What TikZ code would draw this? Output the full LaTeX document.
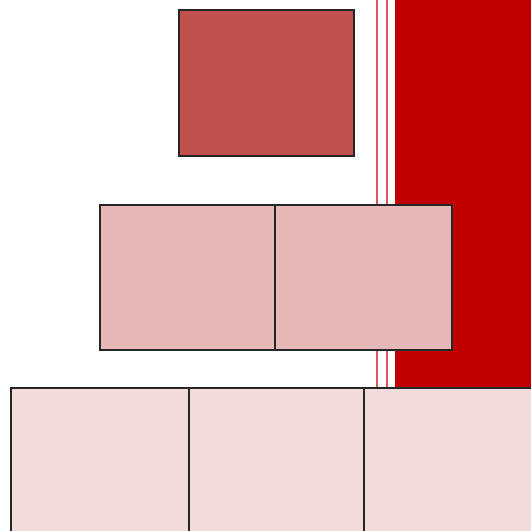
\documentclass[tikz,border=0pt]{standalone}
\usetikzlibrary{positioning}

\definecolor{bandred}{HTML}{C00000}
\definecolor{rulered}{HTML}{D9595A}
\definecolor{topfill}{HTML}{C0504D}
\definecolor{midfill}{HTML}{E6B9B8}
\definecolor{lowfill}{HTML}{F2DCDB}

\begin{document}
\begin{tikzpicture}[x=1pt, y=-1pt,
    blok/.style  = {draw=black!85, line width=1.6pt, anchor=north west, inner sep=0pt},
    blokT/.style = {blok, fill=topfill},
    blokM/.style = {blok, fill=midfill},
    blokL/.style = {blok, fill=lowfill},
    lijn/.style  = {draw=rulered, line width=1.6pt},
]
\useasboundingbox (0,0) rectangle (531,531);
\clip (0,0) rectangle (531,531);

% --- band en lijnen ---
\fill[bandred] (395,-5) rectangle (540,540);
\coordinate (l1a) at (377,-5);
\coordinate (l1b) at (377,540);
\coordinate (l2a) at (387,-5);
\coordinate (l2b) at (387,540);
\draw[lijn] (l1a) -- (l1b);
\draw[lijn] (l2a) -- (l2b);

% --- bovenste blok ---
\node[blokT, minimum width=175pt, minimum height=146pt] (top) at (178,9) {};

% --- middelste rij ---
\node[blokM, minimum width=175pt, minimum height=145pt] (midA) at (99,204) {};
\node[blokM, minimum width=177pt, minimum height=145pt] (midB) at (274,204) {};

% --- onderste rij ---
\node[blokL, minimum width=178pt, minimum height=160pt] (lowA) at (10,387) {};
\node[blokL, minimum width=175pt, minimum height=160pt] (lowB) at (188,387) {};
\node[blokL, minimum width=180pt, minimum height=160pt] (lowC) at (363,387) {};

\end{tikzpicture}
\end{document}
